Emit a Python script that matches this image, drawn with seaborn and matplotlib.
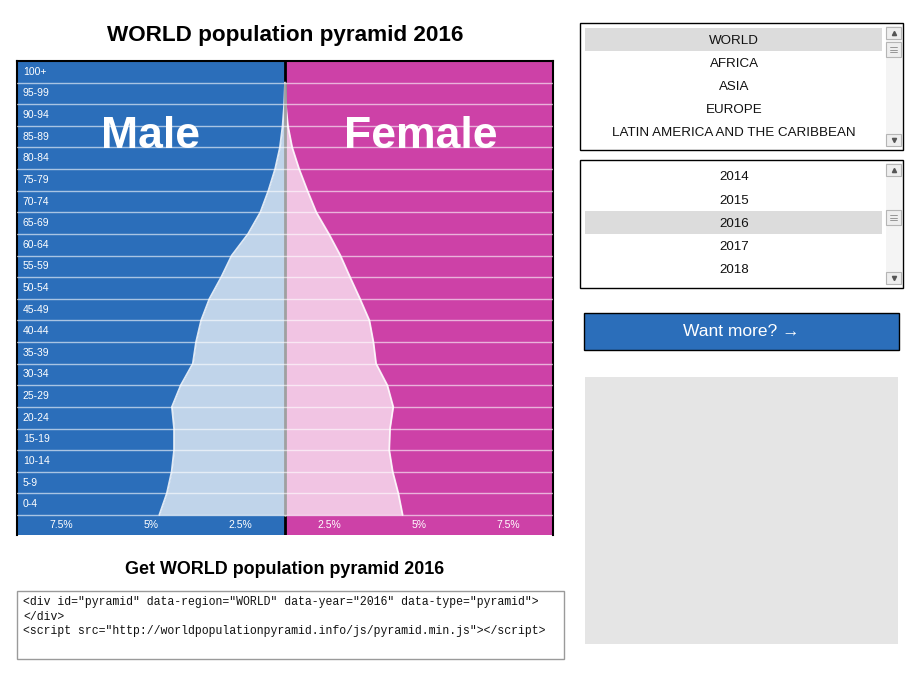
import numpy as np
import pandas as pd
import seaborn as sns
import matplotlib.pyplot as plt
from matplotlib.patches import Rectangle

# --- data (percent of total population) ---
ages = ["0-4", "5-9", "10-14", "15-19", "20-24", "25-29", "30-34", "35-39",
        "40-44", "45-49", "50-54", "55-59", "60-64", "65-69", "70-74",
        "75-79", "80-84", "85-89", "90-94", "95-99", "100+"]
male = [4.69, 4.41, 4.23, 4.14, 4.14, 4.22, 3.89, 3.44, 3.32, 3.13, 2.82,
        2.38, 1.99, 1.38, 0.92, 0.62, 0.37, 0.19, 0.09, 0.03, 0.0]
female = [4.39, 4.23, 4.02, 3.89, 3.92, 4.04, 3.82, 3.40, 3.30, 3.15, 2.80,
          2.43, 2.07, 1.64, 1.17, 0.84, 0.53, 0.27, 0.11, 0.03, 0.0]
tick_labels = ["7.5%", "5%", "2.5%", "2.5%", "5%", "7.5%"]
regions = ["WORLD", "AFRICA", "ASIA", "EUROPE", "LATIN AMERICA AND THE CARIBBEAN"]
years = ["2014", "2015", "2016", "2017", "2018"]
region = "WORLD"
year = "2016"

BLUE = "#2b6eba"
PINK = "#cd41a7"
LBLUE = "#c0d4ea"
LPINK = "#f1c4e3"

sns.set_style("white")
plt.rcParams['font.family'] = ['Liberation Sans', 'DejaVu Sans']

W, H = 920, 695
fig = plt.figure(figsize=(W / 100, H / 100), dpi=100)

def px_axes(x, y, w, h):
    return fig.add_axes([x / W, 1 - (y + h) / H, w / W, h / H])

# overlay in pixel coordinates for the page furniture
bg = px_axes(0, 0, W, H)
bg.set_xlim(0, W)
bg.set_ylim(H, 0)
bg.axis("off")

bg.text(285, 36, f"{region} population pyramid {year}", ha="center", va="center",
        fontsize=16.2, fontweight="bold", color="black")
bg.text(285, 569, f"Get {region} population pyramid {year}", ha="center", va="center",
        fontsize=12.9, fontweight="bold", color="black")

# code box
bg.add_patch(Rectangle((17.5, 590.5), 547, 68, fill=False, ec="#9a9a9a", lw=1))
code = ['<div id="pyramid" data-region="WORLD" data-year="2016" data-type="pyramid">',
        '</div>',
        '<script src="http://worldpopulationpyramid.info/js/pyramid.min.js"></script>']
for i, line in enumerate(code):
    bg.text(23, 602 + i * 14.5, line, ha="left", va="center", fontsize=8.3,
            family="Liberation Mono", color="#111111")

def listbox(y0, h, items, selected, thumb_y):
    bg.add_patch(Rectangle((580.5, y0 + 0.5), 323, h, fill=False, ec="black", lw=1))
    for i, it in enumerate(items):
        cy = y0 + 17 + i * 23.2
        if it == selected:
            bg.add_patch(Rectangle((585, cy - 11.5), 297, 23, fc="#dcdcdc", ec="none"))
        bg.text(734, cy + 1.5, it, ha="center", va="center", fontsize=9.6, color="#111111")
    # scrollbar
    bg.add_patch(Rectangle((886, y0 + 4), 16, h - 7, fc="#f4f4f4", ec="none"))
    for by, mk in [(y0 + 5, "^"), (y0 + h - 15, "v")]:
        bg.add_patch(Rectangle((886.5, by), 15, 12, fc="#eeeeee", ec="#b5b5b5", lw=0.8))
        bg.plot(894, by + 6, marker=mk, ms=3, color="#555555")
    bg.add_patch(Rectangle((886.5, thumb_y), 15, 15, fc="#eeeeee", ec="#b5b5b5", lw=0.8))
    for k in range(3):
        bg.plot([890.5, 897.5], [thumb_y + 5 + 2.5 * k] * 2, color="#888888", lw=0.6)

listbox(22, 127, regions, region, 42)
listbox(159, 128, years, year, 210)

# button and grey panel
bg.add_patch(Rectangle((584.5, 312.5), 315, 37, fc=BLUE, ec="black", lw=1))
bg.text(741, 331, "Want more? \u2192", ha="center", va="center", fontsize=12.5,
        color="white", family=["Liberation Sans", "DejaVu Sans"])
bg.add_patch(Rectangle((585, 377), 313, 267, fc="#e5e5e5", ec="none"))

# --- pyramid ---
df = pd.DataFrame({"age": ages, "male": male, "female": female})
df["pos"] = np.arange(len(ages))
df["male_neg"] = -df["male"]

ax = px_axes(17, 61, 536, 474)
ax.set_xlim(-10, 10)
strip = 20 / 21.6
ax.set_ylim(-strip, len(ages))
ax.axvspan(-10, 0, color=BLUE, zorder=0)
ax.axvspan(0, 10, color=PINK, zorder=0)
ax.axvline(0, color="black", lw=2, zorder=1)

ax.fill_betweenx(df["pos"], df["male_neg"], 0, color=LBLUE, zorder=2, lw=0)
ax.fill_betweenx(df["pos"], 0, df["female"], color=LPINK, zorder=2, lw=0)
sns.lineplot(data=df, x="male_neg", y="pos", orient="y", color="white",
             lw=1.3, alpha=0.85, ax=ax, zorder=3)
sns.lineplot(data=df, x="female", y="pos", orient="y", color="white",
             lw=1.3, alpha=0.85, ax=ax, zorder=3)
ax.plot([0, 0], [0, len(ages) - 1], color="#a0a0a0", lw=2, zorder=3)

for k in range(len(ages)):
    ax.axhline(k, color="white", lw=1, alpha=0.6, zorder=4)
    ax.text(-9.78, k + 0.5, ages[k], ha="left", va="center", fontsize=7.5,
            color="white", zorder=5)

tick_pos = [-50 / 6, -5, -10 / 6, 10 / 6, 5, 50 / 6]
for xp, lab in zip(tick_pos, tick_labels):
    ax.text(xp, -strip / 2, lab, ha="center", va="center", fontsize=7.5,
            color="white", zorder=5)

ax.text(-5.0, 17.5, "Male", ha="center", va="center", fontsize=32,
        fontweight="bold", color="white", zorder=5)
ax.text(5.05, 17.5, "Female", ha="center", va="center", fontsize=32,
        fontweight="bold", color="white", zorder=5)

ax.set_xlabel("")
ax.set_ylabel("")
ax.set_xticks([])
ax.set_yticks([])
for s in ["left", "right", "top"]:
    ax.spines[s].set_visible(True)
    ax.spines[s].set_color("black")
    ax.spines[s].set_linewidth(1.5)
ax.spines["bottom"].set_visible(False)

fig.savefig("out.png", dpi=100)
